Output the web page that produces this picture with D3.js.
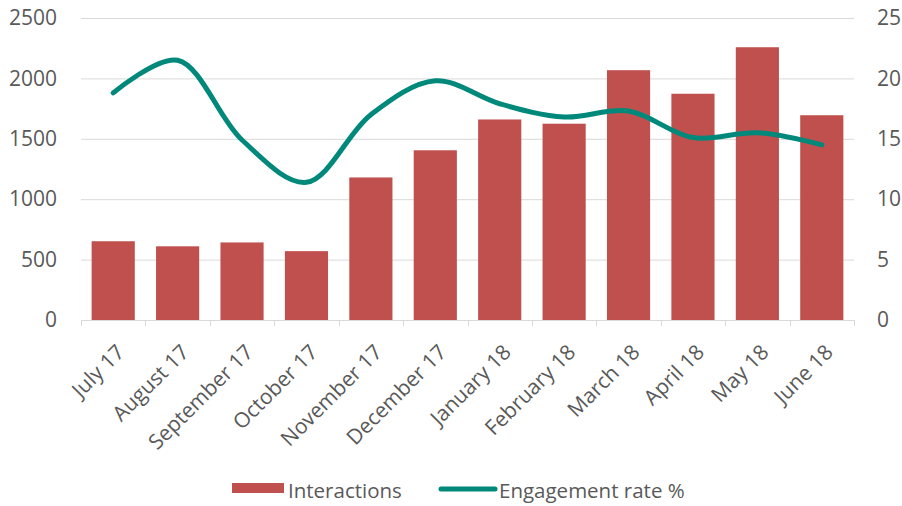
<!DOCTYPE html>
<html>
<head>
<meta charset="utf-8">
<script src="https://cdn.jsdelivr.net/npm/d3@7"></script>
<style>
  html, body { margin: 0; padding: 0; background: #fff; }
  svg text { font-family: "Open Sans", sans-serif; fill: #595959; }
</style>
</head>
<body>
<svg id="chart" width="902" height="506"></svg>
<script>
// données
const months = ['July 17','August 17','September 17','October 17','November 17','December 17',
                'January 18','February 18','March 18','April 18','May 18','June 18'];
const interactions = [652, 610, 642, 570, 1180, 1405, 1660, 1625, 2068, 1873, 2258, 1695];
const engagement = [18.8, 21.5, 14.9, 11.4, 17.0, 19.8, 17.9, 16.8, 17.3, 15.1, 15.5, 14.5];
const leftTicks = [0, 500, 1000, 1500, 2000, 2500];
const rightTicks = [0, 5, 10, 15, 20, 25];

const svg = d3.select('#chart');
const m = {left: 81, right: 854, top: 18, bottom: 320};

const x = d3.scaleBand().domain(months).range([m.left, m.right]).paddingInner(0.33).paddingOuter(0.165);
const xc = d3.scaleBand().domain(months).range([m.left, m.right]);
const yL = d3.scaleLinear().domain([0, 2500]).range([m.bottom, m.top]);
const yR = d3.scaleLinear().domain([0, 25]).range([m.bottom, m.top]);

// grille
svg.append('g').attr('class','grid')
  .selectAll('line').data(leftTicks.slice(1)).enter().append('line')
    .attr('x1', m.left).attr('x2', m.right)
    .attr('y1', d => yL(d) + 0.5).attr('y2', d => yL(d) + 0.5)
    .attr('stroke', '#d9d9d9').attr('stroke-width', 1);

// axe gauche
const axL = svg.append('g').attr('transform', `translate(${m.left - 24},0)`)
  .call(d3.axisLeft(yL).tickValues(leftTicks).tickFormat(d3.format('d')).tickSize(0).tickPadding(0));
axL.select('.domain').remove();
axL.selectAll('text').style('font-size', '21px').attr('fill', '#595959');

// axe droit
const axR = svg.append('g').attr('transform', `translate(${m.right + 23},0)`)
  .call(d3.axisRight(yR).tickValues(rightTicks).tickFormat(d3.format('d')).tickSize(0).tickPadding(0));
axR.select('.domain').remove();
axR.selectAll('text').style('font-size', '21px').attr('fill', '#595959');

// barres
svg.append('g').selectAll('rect').data(interactions).enter().append('rect')
  .attr('x', (d,i) => x(months[i]))
  .attr('width', x.bandwidth())
  .attr('y', d => yL(d))
  .attr('height', d => yL(0) - yL(d))
  .attr('fill', '#c0504d');

// axe des x
const bottom = svg.append('g');
bottom.append('line').attr('x1', m.left).attr('x2', m.right)
  .attr('y1', m.bottom + 0.5).attr('y2', m.bottom + 0.5)
  .attr('stroke', '#d9d9d9').attr('stroke-width', 1);
const bounds = months.map(d => xc(d)).concat([m.right]);
bottom.selectAll('line.tick').data(bounds).enter().append('line')
  .attr('class','tick')
  .attr('x1', d => Math.round(d) + 0.5).attr('x2', d => Math.round(d) + 0.5)
  .attr('y1', m.bottom).attr('y2', m.bottom + 6)
  .attr('stroke', '#d9d9d9').attr('stroke-width', 1);
bottom.selectAll('text').data(months).enter().append('text')
  .attr('transform', d => `translate(${xc(d) + xc.bandwidth()/2 + 2},${m.bottom + 23}) rotate(-45)`)
  .attr('text-anchor', 'end')
  .attr('dy', '0.71em')
  .style('font-size', '21px')
  .text(d => d);

// courbe
const line = d3.line()
  .x((d,i) => xc(months[i]) + xc.bandwidth()/2)
  .y(d => yR(d))
  .curve(d3.curveCatmullRom.alpha(0.5));
svg.append('path').datum(engagement)
  .attr('d', line)
  .attr('fill', 'none')
  .attr('stroke', '#00897b')
  .attr('stroke-width', 5)
  .attr('stroke-linecap', 'round')
  .attr('stroke-linejoin', 'round');

// légende
const lg = svg.append('g').attr('transform', 'translate(0,491)');
lg.append('rect').attr('x', 232).attr('y', -8).attr('width', 52).attr('height', 10).attr('fill', '#c0504d');
lg.append('text').attr('x', 288).attr('y', 0).attr('dy', '0.32em').style('font-size', '20.5px').text('Interactions');
lg.append('line').attr('x1', 441).attr('x2', 495).attr('y1', -2).attr('y2', -2)
  .attr('stroke', '#00897b').attr('stroke-width', 5).attr('stroke-linecap', 'round');
lg.append('text').attr('x', 499).attr('y', 0).attr('dy', '0.32em').style('font-size', '20.5px').text('Engagement rate %');
</script>
</body>
</html>
